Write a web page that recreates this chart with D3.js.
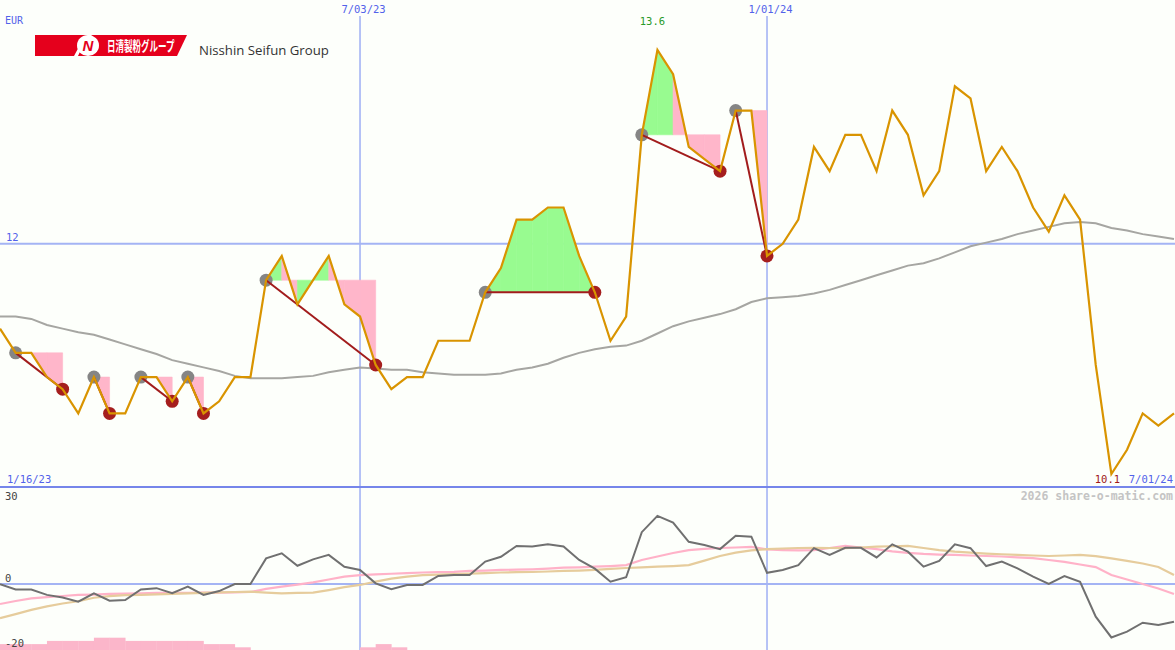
<!DOCTYPE html>
<html><head><meta charset="utf-8">
<script src="https://cdn.jsdelivr.net/npm/d3@7"></script>
<style>body{margin:0;background:#fdfffb}svg{display:block}</style>
</head><body><svg id="c" width="1175" height="650"></svg>
<script>
// ---- data (weekly, index 0 = first plotted week) ----
const price = [11.3,11.1,11.1,10.9,10.8,10.6,10.9,10.6,10.6,10.9,10.9,10.7,10.9,10.6,10.7,10.9,10.9,
  11.7,11.9,11.5,11.7,11.9,11.5,11.4,11.0,10.8,10.9,10.9,11.2,11.2,11.2,11.6,11.8,12.2,12.2,12.3,12.3,11.9,11.6,11.2,11.4,
  12.9,13.6,13.4,12.8,12.7,12.6,13.1,13.1,11.9,12.0,12.2,12.8,12.6,12.9,12.9,12.6,13.1,12.9,12.4,12.6,13.3,13.2,12.6,12.8,12.6,12.3,12.1,12.4,12.2,11.0,10.1,10.3,10.6,10.5,10.6];
const movingAvg = [11.40,11.40,11.38,11.33,11.30,11.27,11.25,11.21,11.17,11.13,11.09,11.04,11.01,10.98,10.95,10.91,10.89,
  10.89,10.89,10.90,10.91,10.94,10.96,10.98,10.97,10.96,10.96,10.94,10.93,10.92,10.92,10.92,10.93,10.96,10.98,11.01,11.06,11.10,11.13,11.15,11.16,
  11.20,11.26,11.32,11.36,11.39,11.42,11.46,11.52,11.55,11.56,11.57,11.59,11.62,11.66,11.70,11.74,11.78,11.82,11.84,11.88,11.93,11.98,12.01,12.04,12.08,12.11,12.14,12.17,12.18,12.17,12.13,12.11,12.08,12.06,12.04];
const momentum = [-0.1,-1.7,-1.7,-3.4,-4.2,-5.5,-2.9,-5.2,-5.0,-1.7,-1.3,-2.9,-0.8,-3.4,-2.2,0,0,
  8.0,9.6,5.7,7.7,9.1,5.4,4.4,0.2,-1.6,-0.3,-0.3,2.5,2.8,2.8,7.0,8.5,11.9,11.7,12.4,11.7,7.5,4.8,
  0.7,2.1,16.2,21.3,19.2,13.2,12.2,10.9,15.1,14.8,3.5,4.4,5.9,11.2,9.1,11.3,11.3,8.3,12.4,10.1,5.4,7.2,12.4,11.2,5.6,7.0,4.9,2.3,0,2.5,0.7,-10.2,-16.7,-14.9,-12.1,-12.8,-11.8];
const fastAvg = [-6.25,-5.3,-4.5,-4.1,-3.75,-3.4,-3.3,-3.1,-3.0,-2.9,-2.8,-2.8,-2.8,-2.7,-2.7,-2.6,-2.5,
  -1.5,-0.8,-0.2,0.5,1.4,2.3,2.8,3.0,3.2,3.4,3.6,3.7,3.8,4.1,4.2,4.4,4.5,4.6,4.8,5.1,5.2,5.4,5.6,5.9,
  7.5,8.6,9.7,10.6,11.0,11.25,11.4,11.6,10.8,10.6,10.5,10.6,11.25,11.9,11.4,10.9,10.2,9.75,9.4,9.2,9.1,8.9,8.75,8.6,8.3,8.1,7.5,6.9,6.1,5.3,2.8,1.4,0,-1.4,-3.1];
const slowAvg = [-10.7,-9.4,-8.1,-7.0,-6.1,-5.4,-4.3,-3.8,-3.5,-3.4,-3.25,-3.1,-2.9,-2.75,-2.6,-2.5,-2.4,
  -2.7,-2.9,-2.8,-2.7,-1.9,-1.0,-0.3,0.75,1.7,2.3,2.8,2.9,3.1,3.25,3.4,3.6,3.7,3.75,3.9,4.1,4.2,4.4,4.75,5.0,5.2,5.4,5.6,5.9,
  7.3,8.75,9.8,10.5,10.9,11.1,11.25,11.3,11.25,11.2,11.4,11.7,11.8,11.9,11.25,10.6,10.1,9.8,9.5,9.3,9.1,8.9,8.75,8.9,9.1,8.7,8.0,7.2,6.4,5.3,2.8];
const barValues = [2,2,2,3,3,3,4,4,3,3,3,3,3,2,2,1,0,0,0,0,0,0,0,1,2,1,
  0,0,0,0,0,0,0,0,0,0,0,0,0,0,0,0,0,0,0,0,0,0,0,0,0,0,0,0,0,0,0,0,0,0,0,0,0,0,0,0,0,0,0,0,0,0,0,0,0,0];
const swingTops    = [1, 6, 9, 12, 17, 31, 41, 47];
const swingBottoms = [4, 7, 11, 13, 24, 38, 46, 49];
const dateTickLabels = ["7/03/23", "1/01/24"];
const dateTickWeeks  = [23, 49];
const startLabel = "1/16/23", endLabel = "7/01/24";
const gridLevel = 12;
const lowerTickLabels = [30, 0, -20];
const highLabel = "13.6", lowLabel = "10.1";

// ---- scales ----
const svg = d3.select("#c");
const x = d3.scaleLinear().domain([0, price.length - 1]).range([0, 1174]);
const y = d3.scaleLinear().domain([10.1, 13.6]).range([474, 50]);
const y2 = d3.scaleLinear().domain([-20, 30]).range([648, 488]);
const yb = d3.scaleLinear().domain([0, 4]).range([650.5, 637.7]);
const mono = "'DejaVu Sans Mono', monospace";
const blue = "#5262ea", lightBlue = "#a4b4f4";

svg.append("rect").attr("width",1175).attr("height",650).attr("fill","#fdfffb");

// grid
svg.append("line").attr("x1",0).attr("x2",1175).attr("y1",y(gridLevel)).attr("y2",y(gridLevel))
  .attr("stroke",lightBlue).attr("stroke-width",2);
svg.append("line").attr("x1",0).attr("x2",1175).attr("y1",y2(0)).attr("y2",y2(0))
  .attr("stroke",lightBlue).attr("stroke-width",2);
dateTickWeeks.forEach(w => {
  svg.append("line").attr("x1",x(w)).attr("x2",x(w)).attr("y1",16).attr("y2",650)
    .attr("stroke",lightBlue).attr("stroke-width",1.6);
});
svg.append("line").attr("x1",0).attr("x2",1175).attr("y1",487).attr("y2",487)
  .attr("stroke","#7686ea").attr("stroke-width",2.2);

// bars lower panel
svg.append("g").selectAll("rect").data(barValues.map((v,i)=>({v,i})).filter(d=>d.v>0)).join("rect")
  .attr("x",d=>x(d.i)).attr("width",d=>x(d.i+1)-x(d.i)+0.3)
  .attr("y",d=>yb(d.v)).attr("height",d=>yb(0)-yb(d.v)).attr("fill","#fbb6ca");

// swing fills
const gFill = svg.append("g");
swingTops.forEach((t, s) => {
  const b = swingBottoms[s], L = price[t];
  for (let i = t; i < b; i++) {
    const pts = [[x(i), y(price[i])], [x(i+1), y(price[i+1])], [x(i+1), y(L)], [x(i), y(L)]];
    const col = price[i+1] >= L ? "#98fb90" : "#ffb6ca";
    gFill.append("path").attr("d", d3.line()(pts) + "Z")
      .attr("fill", col).attr("stroke", col).attr("stroke-width", 0.6);
  }
});

// moving average
svg.append("path").datum(movingAvg).attr("fill","none").attr("stroke","#a6a6a2").attr("stroke-width",2)
  .attr("d", d3.line().x((d,i)=>x(i)).y(d=>y(d)));

// lower lines
const l2 = d3.line().x((d,i)=>x(i)).y(d=>y2(d));
svg.append("path").datum(fastAvg).attr("fill","none").attr("stroke","#ffb2c8").attr("stroke-width",2.2).attr("d",l2);
svg.append("path").datum(slowAvg).attr("fill","none").attr("stroke","#e6cc9c").attr("stroke-width",2.2).attr("d",l2);
svg.append("path").datum(momentum).attr("fill","none").attr("stroke","#707070").attr("stroke-width",2).attr("d",l2);

// dots
svg.append("g").selectAll("circle").data(swingTops).join("circle")
  .attr("cx",d=>x(d)).attr("cy",d=>y(price[d])).attr("r",6.5).attr("fill","#858585");
svg.append("g").selectAll("circle").data(swingBottoms).join("circle")
  .attr("cx",d=>x(d)).attr("cy",d=>y(price[d])).attr("r",6.5).attr("fill","#a51e1e");
// connectors
swingTops.forEach((t, s) => {
  const b = swingBottoms[s];
  svg.append("line").attr("x1",x(t)).attr("y1",y(price[t])).attr("x2",x(b)).attr("y2",y(price[b]))
    .attr("stroke","#a21c1c").attr("stroke-width",2);
});

// price line
svg.append("path").datum(price).attr("fill","none").attr("stroke","#d99400").attr("stroke-width",2.2)
  .attr("stroke-linejoin","miter").attr("d", d3.line().x((d,i)=>x(i)).y(d=>y(d)));

// texts
function txt(s, px, py, opts={}) {
  return svg.append("text").attr("x",px).attr("y",py).text(s)
    .attr("font-family", opts.family || mono).attr("font-size", opts.size || 10.5)
    .attr("fill", opts.fill || blue).attr("text-anchor", opts.anchor || "start")
    .attr("font-weight", opts.weight || "normal");
}
txt("EUR", 5, 24, {size:10});
txt(String(gridLevel), 6, y(gridLevel) - 3, {size:10.5});
dateTickLabels.forEach((s,i) => txt(s, x(dateTickWeeks[i]) + 3.5, 13, {anchor:"middle"}));
txt(startLabel, 7, 483);
txt(endLabel, 1173, 483, {anchor:"end"});
txt(highLabel, x(price.indexOf(d3.max(price))) - 5, 25, {anchor:"middle", fill:"#2a9a2a"});
txt(lowLabel, x(price.indexOf(d3.min(price))) - 4, 483, {anchor:"middle", fill:"#a01818"});
txt("2026 share-o-matic.com", 1173, 500, {anchor:"end", fill:"#c4c4c4", weight:"bold", size:11.5});
txt(String(lowerTickLabels[0]), 5, 500, {fill:"#444", size:10.5});
txt(String(lowerTickLabels[1]), 5, 582, {fill:"#444", size:10.5});
txt(String(lowerTickLabels[2]), 5, 647, {fill:"#444", size:10.5});

// logo
const logo = svg.append("g");
logo.append("path").attr("d","M35,35 L187,35 L177,56 L35,56 Z").attr("fill","#e5001c");
logo.append("ellipse").attr("cx",88).attr("cy",45.5).attr("rx",11).attr("ry",10.5).attr("fill","#fff");
logo.append("path").attr("d","M74,56 Q80,44 88,35 L92,35 Q83,44 78,56 Z").attr("fill","#fff");
logo.append("text").attr("x",88).attr("y",51).attr("text-anchor","middle").text("N")
  .attr("font-family","'Liberation Sans', Arial, sans-serif").attr("font-style","italic").attr("font-weight","bold")
  .attr("font-size",15).attr("fill","#e5001c");
logo.append("text").attr("transform","translate(107,51) scale(1,1.65)").text("日清製粉グループ")
  .attr("font-family","'Noto Sans CJK JP', sans-serif").attr("font-weight","bold").attr("font-size",8.5)
  .attr("fill","#fff");
svg.append("text").attr("x",199).attr("y",55).text("Nisshin Seifun Group")
  .attr("font-family","'Open Sans', 'Liberation Sans', sans-serif").attr("font-size",13.2).attr("fill","#333");
</script></body></html>
